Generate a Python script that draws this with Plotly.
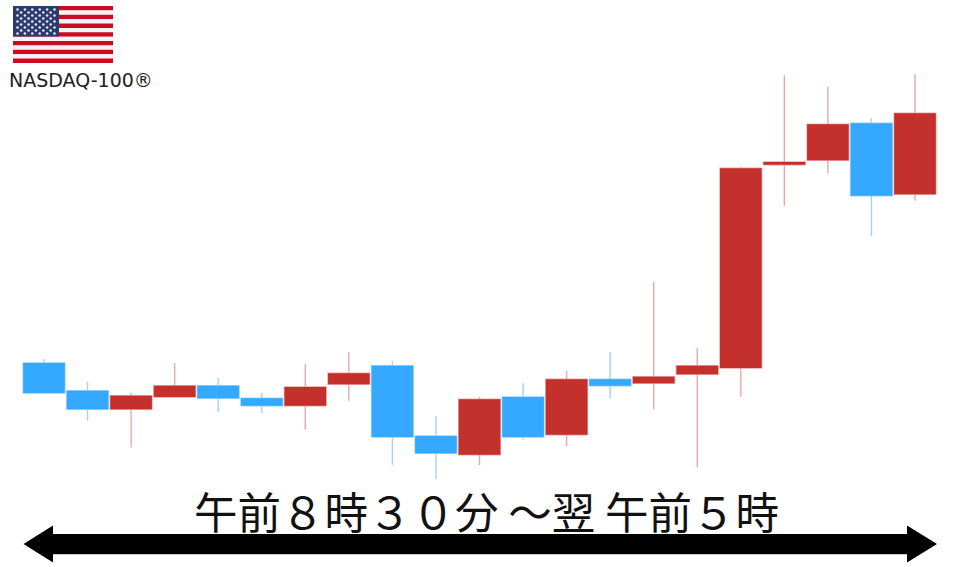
import plotly.graph_objects as go

W, H = 960, 567

# Values (arbitrary price units: higher = up)
sessions = list(range(21))
highs  = [208, 185, 174, 204, 189, 174, 202.7, 215, 206.3, 151, 170, 183.7, 196.3, 215, 285, 219, 400, 491.7, 480.3, 448.7, 492.7]
lows   = [173, 146.3, 119.7, 170, 155, 153.7, 137.3, 166.3, 102, 88.3, 102, 127.3, 121, 168.7, 157.7, 99.7, 170.3, 361.3, 393.7, 331.3, 366.3]
tops   = [204, 176.3, 171.3, 181.3, 181.3, 168.7, 180, 193.7, 201.3, 131, 167.7, 170, 187.7, 187.7, 190.3, 201.3, 398.7, 405, 442.7, 443.7, 453.7]
bottoms= [174, 157.7, 157.7, 170, 168.7, 161.3, 161.3, 182.7, 130, 113.7, 112.3, 130, 132.3, 181.3, 183.7, 192.7, 199, 402.3, 406.7, 371.3, 372.7]
rising = [0, 0, 1, 1, 0, 0, 1, 1, 0, 0, 1, 0, 1, 0, 1, 1, 1, 1, 1, 0, 1]

opens  = [b if r else t for b, t, r in zip(bottoms, tops, rising)]
closes = [t if r else b for b, t, r in zip(bottoms, tops, rising)]

title_text = "午前８時３０分 ～翌 午前５時"
index_label = "NASDAQ-100®"

RED, BLUE = "#c4302b", "#35a9ff"

fig = go.Figure(go.Candlestick(
    x=sessions, open=opens, high=highs, low=lows, close=closes,
    whiskerwidth=0,
    increasing=dict(fillcolor=RED, line=dict(color="rgba(196,48,43,0.42)", width=1.4)),
    decreasing=dict(fillcolor=BLUE, line=dict(color="rgba(53,169,255,0.5)", width=1.4)),
    hoverinfo="none", showlegend=False,
))

def px(x): return x / W
def py(y): return 1 - y / H

shapes = []
def rect(x0, y0, x1, y1, color, layer="below"):
    shapes.append(dict(type="rect", xref="paper", yref="paper", x0=px(x0), x1=px(x1),
                       y0=py(y1), y1=py(y0), fillcolor=color, line=dict(width=0), layer=layer))

# Flag
FX0, FX1, FY0, FY1 = 13, 113, 6, 63
sh = (FY1 - FY0) / 13
for i in range(13):
    rect(FX0, FY0 + i * sh, FX1, FY0 + (i + 1) * sh, "#cc0a24" if i % 2 == 0 else "#f4f4f4")
rect(FX0, FY0, 59, 36.5, "#2c3a6e")

# Double-headed arrow
pts = [(23.5, 544), (53, 525.5), (53, 534), (907, 534), (907, 525.5), (937, 544),
       (907, 562.5), (907, 554), (53, 554), (53, 562.5)]
path = "M " + " L ".join(f"{px(x):.5f},{py(y):.5f}" for x, y in pts) + " Z"
shapes.append(dict(type="path", xref="paper", yref="paper", path=path, fillcolor="#000000",
                   line=dict(width=0), layer="above"))
rect(53, 554, 907, 555, "#c8c8c8", layer="above")

# Flag stars on a pixel-scaled overlay axis
star_x, star_y = [], []
for r in range(9):
    n = 6 if r % 2 == 0 else 5
    off = 0 if r % 2 == 0 else 3.6
    for c in range(n):
        star_x.append(17.5 + off + c * 7.4)
        star_y.append(9.5 + r * 3.0)
fig.add_trace(go.Scatter(x=star_x, y=star_y, mode="markers", xaxis="x2", yaxis="y2",
                         marker=dict(color="#e6e8f0", size=2.6, line=dict(width=0)),
                         hoverinfo="skip", showlegend=False))

annotations = [
    dict(text=title_text, xref="paper", yref="paper", x=px(486.5), y=py(510), showarrow=False,
         xanchor="center", yanchor="middle",
         font=dict(family="Noto Sans CJK JP", size=43.5, color="#111111")),
    dict(text=index_label, xref="paper", yref="paper", x=px(6.5), y=py(80), showarrow=False,
         xanchor="left", yanchor="middle",
         font=dict(family="DejaVu Sans", size=19, color="#222222")),
]

fig.update_layout(
    width=W, height=H, margin=dict(l=0, r=0, t=0, b=0),
    paper_bgcolor="white", plot_bgcolor="white",
    boxmode="overlay", boxgap=0.045, boxgroupgap=0,
    xaxis=dict(visible=False, range=[-44 / 43.55, (960 - 44) / 43.55], rangeslider=dict(visible=False), fixedrange=True),
    yaxis=dict(visible=False, range=[0, 567], fixedrange=True),
    xaxis2=dict(visible=False, range=[0, W], overlaying="x", fixedrange=True),
    yaxis2=dict(visible=False, range=[H, 0], overlaying="y", fixedrange=True),
    shapes=shapes, annotations=annotations,
)
fig.write_html("out.html", config=dict(displayModeBar=False),
               post_script="document.body.style.margin='0';document.documentElement.style.overflow='hidden';")
